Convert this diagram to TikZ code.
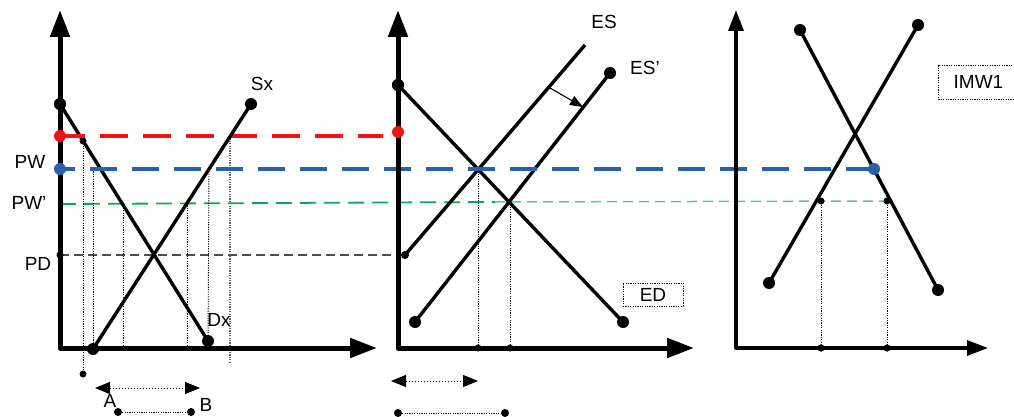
\documentclass[tikz,border=0pt]{standalone}
\usepackage{fontspec}
\setmainfont{Liberation Sans}
\usetikzlibrary{arrows.meta}
\definecolor{rd}{HTML}{F01414}
\definecolor{bl}{HTML}{2A5FAA}
\definecolor{gd}{HTML}{00B050}
\definecolor{gl}{HTML}{5CCB88}
\begin{document}
\begin{tikzpicture}[x=1pt,y=-1pt,
  axisA/.style={line width=5pt,line join=round,{Triangle[length=27pt,width=19pt]}-{Triangle[length=27pt,width=19pt]}},
  axisB/.style={line width=3.2pt,line join=round,{Triangle[length=21pt,width=15pt]}-{Triangle[length=21pt,width=15pt]}},
  curve/.style={line width=3.4pt},
  bigdot/.style={circle,fill=black,inner sep=0pt,minimum size=12pt},
  smalldot/.style={circle,fill=black,inner sep=0pt,minimum size=7pt},
  vdot/.style={line width=0.9pt,dash pattern=on 1.2pt off 1.2pt},
  lbl/.style={font=\fontsize{19}{21}\selectfont,inner sep=0pt},
  boxlbl/.style={lbl,draw,line width=0.9pt,dash pattern=on 1.2pt off 1.2pt},
  dbl/.style={line width=1pt,dash pattern=on 1.5pt off 1.5pt,{Triangle[length=15pt,width=12pt]}-{Triangle[length=15pt,width=12pt]}}
]
\useasboundingbox (0,0) rectangle (1014,417);

% ---------- coordinates ----------
\coordinate (r0) at (60,136);
\coordinate (r1) at (383,136);
\coordinate (b0) at (60,169);
\coordinate (g0) at (60,204);
\coordinate (g1) at (495,202);
\coordinate (g2) at (890,201);
\coordinate (pd0) at (60,255);

% ---------- horizontal price lines ----------
\draw[rd,line width=3.8pt,dash pattern=on 28pt off 15pt,dash phase=3pt] (r0) -- (r1);
\draw[gd,line width=1.8pt,dash pattern=on 16pt off 8pt] (g0) -- (g1);
\draw[gl,line width=1.5pt,dash pattern=on 10pt off 6pt] (g1) -- (g2);
\draw[black!70,line width=1.5pt,dash pattern=on 9pt off 5pt] (pd0) -- (405,255) coordinate (pd1);

% ---------- panel 1 ----------
\node[bigdot] (dxa) at (60,104) {};
\node[bigdot] (dxb) at (208,341) {};
\node[bigdot] (sxa) at (93,349) {};
\node[bigdot] (sxb) at (251,104) {};
\node[smalldot] (q1) at (83,141) {};
\node[smalldot] (q1b) at (83,374) {};

\draw[vdot] (q1.center) -- (q1b.center);
\draw[vdot] (93,169) coordinate (v2a) -- (93,348) coordinate (v2b);
\draw[vdot] (123,203) coordinate (v3a) -- (123,348) coordinate (v3b);
\draw[vdot] (187,203) coordinate (v4a) -- (187,348) coordinate (v4b);
\draw[vdot] (209,169) coordinate (v5a) -- (dxb.center);
\draw[black!60,line width=2.8pt,dash pattern=on 1.2pt off 1.2pt] (230,136) coordinate (v6a) -- (230,362) coordinate (v6b);

\draw[curve] (dxa.center) -- (dxb.center);
\draw[curve] (sxa.center) -- (sxb.center);

\node[lbl] (lSx) at (262,84) {Sx};
\node[lbl] (lDx) at (219,320) {Dx};
\node[lbl] (lPW) at (30,162) {PW};
\node[lbl] (lPWp) at (29,203) {PW’};
\node[lbl] (lPD) at (38,264) {PD};

\coordinate (a1l) at (95,388);
\coordinate (a1r) at (200,388);
\draw[dbl] (a1l) -- (a1r);
\node[lbl] (lA) at (110,401) {A};
\node[lbl] (lB) at (206,405) {B};
\node[smalldot,minimum size=8pt] (ab1) at (118,412) {};
\node[smalldot,minimum size=8pt] (ab2) at (191,412) {};
\draw[vdot] (ab1) -- (ab2);

% ---------- panel 2 ----------
\node[bigdot] (eda) at (398,85) {};
\node[bigdot] (edb) at (623,322) {};
\node[smalldot,minimum size=8pt] (esa) at (405,255) {};
\coordinate (esb) at (585,45);
\node[bigdot] (espa) at (415,322) {};
\node[bigdot] (espb) at (610,73) {};

\draw[vdot] (478,169) coordinate (w1a) -- (478,348) coordinate (w1b);
\draw[vdot] (510,202) coordinate (w2a) -- (510,348) coordinate (w2b);

\draw[curve] (eda.center) -- (edb.center);
\draw[curve] (esa.center) -- (esb);
\draw[curve] (espa.center) -- (espb.center);

\coordinate (sh0) at (550,88);
\coordinate (sh1) at (583,107);
\draw[line width=1.1pt,-{Triangle[length=13pt,width=10pt]}] (sh0) -- (sh1);

\node[lbl] (lES) at (604,22) {ES};
\node[lbl] (lESp) at (645,68) {ES’};
\node[boxlbl,minimum width=60pt,minimum height=23pt] (lED) at (653,294.5) {ED};

\coordinate (a2l) at (391,381);
\coordinate (a2r) at (478,381);
\draw[dbl] (a2l) -- (a2r);
\node[smalldot,minimum size=8pt] (cd1) at (398,413) {};
\node[smalldot,minimum size=8pt] (cd2) at (505,413) {};
\draw[vdot] (cd1) -- (cd2);

% ---------- panel 3 ----------
\node[bigdot] (ma) at (800,30) {};
\node[bigdot] (mb) at (938,290) {};
\node[bigdot] (na) at (769,283) {};
\node[bigdot] (nb) at (918,25) {};
\node[smalldot] (t1) at (821,201) {};
\node[smalldot] (t2) at (887,201) {};
\node[smalldot] (u1) at (821,348) {};
\node[smalldot] (u2) at (887,348) {};
\draw[vdot] (t1) -- (u1);
\draw[vdot] (t2) -- (u2);
\draw[curve] (ma.center) -- (mb.center);
\draw[curve] (na.center) -- (nb.center);

\node[lbl,draw,line width=0.9pt,dash pattern=on 1.2pt off 1.2pt,minimum width=80pt,minimum height=34pt,anchor=west] (lIMW) at (938,82) {IMW1};

% ---------- blue line & dots ----------
\node[circle,fill=bl,inner sep=0pt,minimum size=12pt] (bdot2) at (874,169) {};
\draw[bl,line width=3.8pt,dash pattern=on 27pt off 15pt,dash phase=12pt] (b0) -- (bdot2.center);

% ---------- axes ----------
\draw[axisA] (60,10) coordinate (y1) -- (60,348) coordinate (o1) -- (377,348) coordinate (x1);
\draw[axisA] (398,10) coordinate (y2) -- (398,348) coordinate (o2) -- (694,348) coordinate (x2);
\draw[axisB] (736,10) coordinate (y3) -- (736,348) coordinate (o3) -- (988,348) coordinate (x3);

% dots on axes
\node[circle,fill=rd,inner sep=0pt,minimum size=12pt] (rdot1) at (60,136) {};
\node[circle,fill=rd,inner sep=0pt,minimum size=12pt] (rdot2) at (398,132) {};
\node[circle,fill=bl,inner sep=0pt,minimum size=12pt] (bdot1) at (60,169) {};
\draw[rd,line width=3.8pt] (rdot1.center) -- (85,136);
\node[smalldot] (pdd) at (60,255) {};
\node[bigdot] (dxa2) at (60,104) {};
\node[bigdot] (eda2) at (398,85) {};
\node[smalldot] (w1d) at (478,348) {};
\node[smalldot] (w2d) at (510,348) {};
\node[smalldot] (u1b) at (821,348) {};
\node[smalldot] (u2b) at (887,348) {};
\end{tikzpicture}
\end{document}
